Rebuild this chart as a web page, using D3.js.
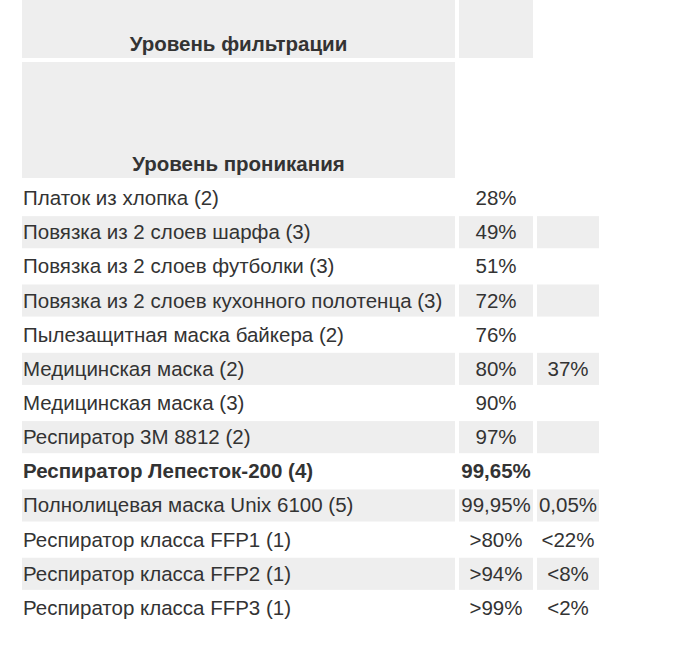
<!DOCTYPE html>
<html><head><meta charset="utf-8">
<script src="https://cdn.jsdelivr.net/npm/d3@7"></script>
<style>body{margin:0;background:#fff}</style></head>
<body><svg id="c" width="698" height="664"></svg>
<script>
const headers = ["Уровень фильтрации", "Уровень проникания"];
const categories = ["Платок из хлопка (2)","Повязка из 2 слоев шарфа (3)","Повязка из 2 слоев футболки (3)","Повязка из 2 слоев кухонного полотенца (3)","Пылезащитная маска байкера (2)","Медицинская маска (2)","Медицинская маска (3)","Респиратор 3M 8812 (2)","Респиратор Лепесток-200 (4)","Полнолицевая маска Unix 6100 (5)","Респиратор класса FFP1 (1)","Респиратор класса FFP2 (1)","Респиратор класса FFP3 (1)"];
const filtration = ["28%","49%","51%","72%","76%","80%","90%","97%","99,65%","99,95%",">80%",">94%",">99%"];
const penetration = ["","","","","","37%","","","","0,05%","<22%","<8%","<2%"];
const boldRows = ["Респиратор Лепесток-200 (4)"];

const svg = d3.select("#c");
const font = "Liberation Sans, Arial, sans-serif";
const gray = "#eeeeee", ink = "#333";
const fs = 20.5;
const x = d3.scaleOrdinal().domain([0,1,2]).range([22,459,537]);
const w = d3.scaleOrdinal().domain([0,1,2]).range([433,74,62]);
const y = d3.scaleBand().domain(d3.range(categories.length)).range([182,182+34*categories.length]).paddingInner(0.06).paddingOuter(0);

svg.append("rect").attr("x",x(0)).attr("y",0).attr("width",w(0)).attr("height",58).attr("fill",gray);
svg.append("rect").attr("x",x(1)).attr("y",0).attr("width",w(1)).attr("height",58).attr("fill",gray);
svg.append("rect").attr("x",x(0)).attr("y",62).attr("width",w(0)).attr("height",116).attr("fill",gray);
svg.append("text").attr("x",x(0)+w(0)/2).attr("y",51).attr("text-anchor","middle").attr("font-family",font).attr("font-size",fs).attr("font-weight","bold").attr("fill",ink).text(headers[0]);
svg.append("text").attr("x",x(0)+w(0)/2).attr("y",171).attr("text-anchor","middle").attr("font-family",font).attr("font-size",fs).attr("font-weight","bold").attr("fill",ink).text(headers[1]);

const rows = svg.selectAll("g.r").data(categories).join("g").attr("class","r")
  .attr("transform",(d,i)=>`translate(0,${y(i)})`);
rows.each(function(d,i){
  const g = d3.select(this);
  const h = y.bandwidth();
  if(i%2===1){
    [0,1,2].forEach(c=>g.append("rect").attr("x",x(c)).attr("y",0).attr("width",w(c)).attr("height",h).attr("fill",gray));
  }
  const bold = boldRows.includes(d);
  const t = (xx,anchor,txt)=>g.append("text").attr("x",xx).attr("y",h/2+7).attr("text-anchor",anchor)
    .attr("font-family",font).attr("font-size",fs).attr("fill",ink).attr("font-weight",bold?"bold":"normal").text(txt);
  t(x(0)+1,"start",d);
  t(x(1)+w(1)/2,"middle",filtration[i]);
  if(penetration[i]) t(x(2)+w(2)/2,"middle",penetration[i]);
});
</script></body></html>
